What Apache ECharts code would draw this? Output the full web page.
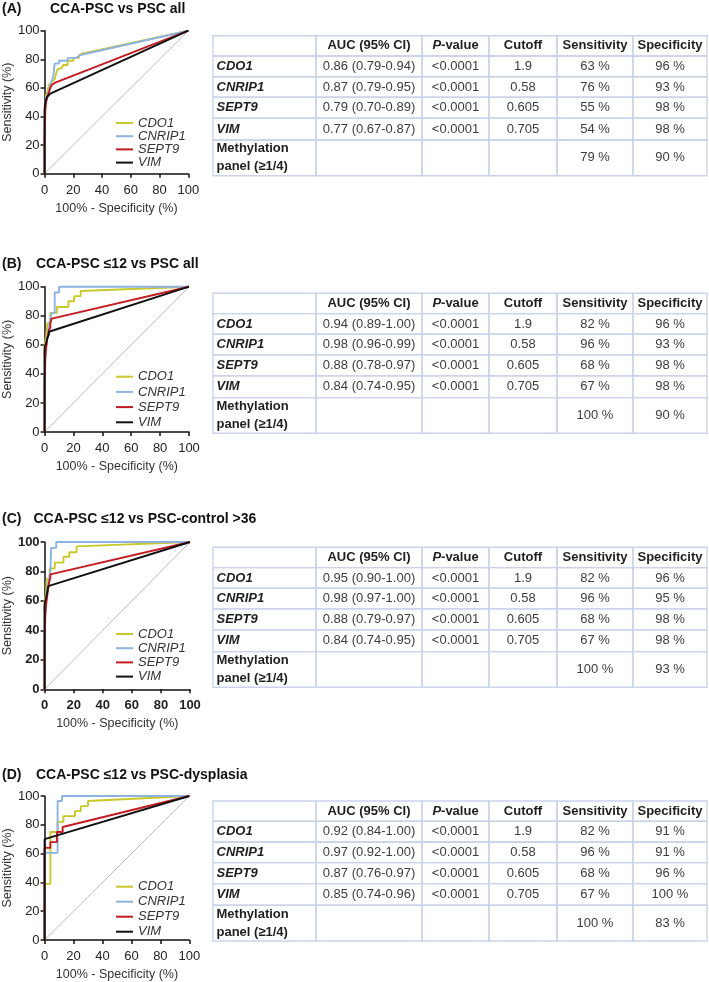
<!DOCTYPE html>
<html><head><meta charset="utf-8">
<script src="https://cdn.jsdelivr.net/npm/echarts@6/dist/echarts.min.js"></script>
<style>html,body{margin:0;padding:0;background:#fff}#c{width:709px;height:982px}</style>
</head><body><div id="c"></div>
<script>
const FONT = '"Liberation Sans", Arial, Helvetica, sans-serif';

// ---------- data ----------
const markers = ['CDO1', 'CNRIP1', 'SEPT9', 'VIM'];
const panelLetters = ['(A)', '(B)', '(C)', '(D)'];
const panelTitles = ['CCA-PSC vs PSC all', 'CCA-PSC \u226412 vs PSC all', 'CCA-PSC \u226412 vs PSC-control >36', 'CCA-PSC \u226412 vs PSC-dysplasia'];
const axisTicks = [0, 20, 40, 60, 80, 100];
const xAxisName = '100% - Specificity (%)';
const yAxisName = 'Sensitivity (%)';

const tableHeaders = ['', 'AUC (95% CI)', 'P-value', 'Cutoff', 'Sensitivity', 'Specificity'];
const panelRowLabel = ['Methylation', 'panel (\u22651/4)'];
const cutoffs = ['1.9', '0.58', '0.605', '0.705'];
const pValues = ['<0.0001', '<0.0001', '<0.0001', '<0.0001'];

const aucA = ['0.86 (0.79-0.94)', '0.87 (0.79-0.95)', '0.79 (0.70-0.89)', '0.77 (0.67-0.87)'];
const sensA = [63, 76, 55, 54, 79];
const specA = [96, 93, 98, 98, 90];
const aucB = ['0.94 (0.89-1.00)', '0.98 (0.96-0.99)', '0.88 (0.78-0.97)', '0.84 (0.74-0.95)'];
const sensB = [82, 96, 68, 67, 100];
const specB = [96, 93, 98, 98, 90];
const aucC = ['0.95 (0.90-1.00)', '0.98 (0.97-1.00)', '0.88 (0.79-0.97)', '0.84 (0.74-0.95)'];
const sensC = [82, 96, 68, 67, 100];
const specC = [96, 95, 98, 98, 93];
const aucD = ['0.92 (0.84-1.00)', '0.97 (0.92-1.00)', '0.87 (0.76-0.97)', '0.85 (0.74-0.96)'];
const sensD = [82, 96, 68, 67, 100];
const specD = [91, 91, 96, 100, 83];

// ROC curves: [100% - specificity, sensitivity]
const rocA_CDO1 = [[0,0],[0,38],[0.5,45],[1,52],[1,55],[2,57],[3,58],[3,62],[4,62],[5,64],[6,65],[7,66],[8,70],[9,70],[9,73],[10,74],[12,74],[13,76],[16,76],[16,79],[20,79],[20,81],[24,81],[24,83],[26,84],[100,100]];
const rocA_CNRIP1 = [[0,0],[0,42],[0.5,50],[1,53],[2,55],[3,58],[4,62],[5,63],[5,65],[6,65],[6,68],[7,68],[7,77],[10,77],[10,79],[16,79],[16,81],[22,81],[22,82],[25,83],[100,100]];
const rocA_SEPT9 = [[0,0],[0,23],[0.5,45],[1,50],[2,54],[3,57],[4,60],[5,62],[6,63],[7,63.5],[100,100]];
const rocA_VIM = [[0,0],[0,45],[0.5,50],[1,52],[2,54],[3,55],[4,56],[5,56.5],[100,100]];

const rocB_CDO1 = [[0,0],[0,60],[1,65],[2,75],[4,75],[4,82],[8.5,82],[8.5,86],[16.5,86],[16.5,90],[20.5,90],[20.5,93.5],[25,93.5],[25,97],[100,100]];
const rocB_CNRIP1 = [[0,0],[0,55],[1,60],[2,65],[3,72],[4,78],[5,82],[7,82],[7,96],[10,96],[10,100],[100,100]];
const rocB_SEPT9 = [[0,0],[0,32],[0.5,50],[1,57],[2,65],[3,70],[4,72],[4,75],[5,76],[5,78],[6,78],[100,100]];
const rocB_VIM = [[0,0],[0,58],[1,61],[2,65],[3,67],[3,69],[4,70],[100,100]];

const rocC_CDO1 = [[0,0],[0,60],[1,65],[1.5,75],[3.5,75],[3.5,82],[7,82],[7,86],[13,86],[13,90],[17,90],[17,93],[22,93],[22,97],[100,100]];
const rocC_CNRIP1 = [[0,0],[0,55],[1,62],[2,68],[3,75],[4,80],[4.5,80],[4.5,96],[8,96],[8,100],[100,100]];
const rocC_SEPT9 = [[0,0],[0,32],[0.5,50],[1,57],[2,65],[3,72],[4,76],[4,78],[5,79],[100,100]];
const rocC_VIM = [[0,0],[0,58],[1,62],[2,67],[2.5,70],[3,70.5],[100,100]];

const rocD_CDO1 = [[0,0],[0,39],[4,39],[4,75],[9,75],[9,82],[13,82],[13,86],[21,86],[21,89.5],[25,89.5],[25,93],[30,93],[30,96.5],[100,100]];
const rocD_CNRIP1 = [[0,0],[0,60.5],[9,60.5],[9,96.5],[12,96.5],[12,100],[100,100]];
const rocD_SEPT9 = [[0,0],[0,64],[4,64],[4,68],[8.5,68],[8.5,75],[12.5,75],[12.5,78.5],[100,100]];
const rocD_VIM = [[0,0],[0,67],[0,70],[100,100]];

const rocPanels = [
  [rocA_CDO1, rocA_CNRIP1, rocA_SEPT9, rocA_VIM],
  [rocB_CDO1, rocB_CNRIP1, rocB_SEPT9, rocB_VIM],
  [rocC_CDO1, rocC_CNRIP1, rocC_SEPT9, rocC_VIM],
  [rocD_CDO1, rocD_CNRIP1, rocD_SEPT9, rocD_VIM]
];
const tablePanels = [
  {auc: aucA, sens: sensA, spec: specA},
  {auc: aucB, sens: sensB, spec: specB},
  {auc: aucC, sens: sensC, spec: specC},
  {auc: aucD, sens: sensD, spec: specD}
];

// ---------- style / layout ----------
const markerColors = ['#c8c82a', '#8db3e2', '#c41a22', '#111111'];
const BORDER = '#c9d3ea';
const layout = [
  {titleY: 9,   titleLeft: 50,   grid: {left: 43.3, top: 30.7, width: 145,   height: 143},   legendTop: 116.5, legendGap: 0.2, tableTop: 35.7,  boldTicks: false},
  {titleY: 264, titleLeft: 36,   grid: {left: 43.3, top: 286.7, width: 145.7, height: 145.3}, legendTop: 370.2, legendGap: 2.2, tableTop: 293.3, boldTicks: false},
  {titleY: 518.7, titleLeft: 33.5, grid: {left: 43.3, top: 542,  width: 146.7, height: 147.3}, legendTop: 627.5, legendGap: 1.2, tableTop: 547.3, boldTicks: true},
  {titleY: 775, titleLeft: 36,   grid: {left: 43.3, top: 796,  width: 146,   height: 146},   legendTop: 880.2, legendGap: 2.0, tableTop: 801,   boldTicks: false}
];
const colW = [103, 106, 67, 68, 76, 74];
const rowH = [20.3, 20.7, 20.6, 21, 21.7, 35.7];
function edges(arr) { const s = arr.reduce((a, b) => a + b, 0); const e = [0]; let acc = 0; arr.forEach(v => { acc += v; e.push(acc / s); }); return e; }
const colEdge = edges(colW), rowEdge = edges(rowH);

function cellContent(t, c, r) {
  const body = '#3c3c3c', dark = '#1e1e1e';
  if (r === 0) {
    if (c === 2) return {text: '{i|P}{n|-value}', rich: {
      i: {fontStyle: 'italic', fontWeight: 'bold', fontSize: 13, fontFamily: FONT, fill: dark},
      n: {fontWeight: 'bold', fontSize: 13, fontFamily: FONT, fill: dark}}, color: dark, bold: true};
    return {text: tableHeaders[c], bold: true, color: dark};
  }
  if (r <= 4) {
    const i = r - 1;
    if (c === 0) return {text: markers[i], bold: true, italic: true, color: dark};
    if (c === 1) return {text: t.auc[i], color: body};
    if (c === 2) return {text: pValues[i], color: body};
    if (c === 3) return {text: cutoffs[i], color: body};
    if (c === 4) return {text: t.sens[i] + ' %', color: body};
    return {text: t.spec[i] + ' %', color: body};
  }
  if (c === 0) return {text: panelRowLabel.join('\n'), bold: true, color: dark};
  if (c === 4) return {text: t.sens[4] + ' %', color: body};
  if (c === 5) return {text: t.spec[4] + ' %', color: body};
  return {text: ''};
}

function makeTableRender(t) {
  return function (params, api) {
    const cs = params.coordSys;
    const c = api.value(0), r = api.value(1);
    const x0 = cs.x + cs.width * colEdge[c], x1 = cs.x + cs.width * colEdge[c + 1];
    const y0 = cs.y + cs.height * rowEdge[r], y1 = cs.y + cs.height * rowEdge[r + 1];
    const cell = cellContent(t, c, r);
    const children = [{type: 'rect', shape: {x: x0, y: y0, width: x1 - x0, height: y1 - y0},
      style: {fill: 'none', stroke: BORDER, lineWidth: 1.4}}];
    if (cell.text) {
      const st = {text: cell.text, x: c === 0 ? x0 + 3.5 : (x0 + x1) / 2, y: (y0 + y1) / 2,
        align: c === 0 ? 'left' : 'center', verticalAlign: 'middle',
        fontFamily: FONT, fontSize: 13, fontWeight: cell.bold ? 'bold' : 'normal',
        fontStyle: cell.italic ? 'italic' : 'normal', fill: cell.color, lineHeight: 18};
      if (cell.rich) st.rich = cell.rich;
      children.push({type: 'text', style: st});
    }
    return {type: 'group', children};
  };
}

// ---------- option ----------
const titles = [], grids = [], xAxes = [], yAxes = [], legends = [], series = [];
layout.forEach((L, p) => {
  titles.push({text: panelLetters[p], left: 2, top: L.titleY - 8, textStyle: {fontFamily: FONT, fontSize: 14, fontWeight: 'bold', color: '#111', lineHeight: 16}, padding: 0});
  titles.push({text: panelTitles[p], left: L.titleLeft, top: L.titleY - 8, textStyle: {fontFamily: FONT, fontSize: 14, fontWeight: 'bold', color: '#111', lineHeight: 16}, padding: 0});
  grids.push(Object.assign({containLabel: false}, L.grid));
  const axCommon = {
    type: 'value', min: 0, max: 100, interval: 20, gridIndex: p,
    nameLocation: 'middle',
    nameTextStyle: {fontFamily: FONT, fontSize: 12.5, color: '#333'},
    axisLine: {show: true, lineStyle: {color: '#111', width: 1.5}},
    axisTick: {show: true, length: 4, lineStyle: {color: '#111', width: 1.5}},
    splitLine: {show: false},
    axisLabel: {fontFamily: FONT, fontSize: 13, color: '#222', fontWeight: L.boldTicks ? 'bold' : 'normal',
      customValues: axisTicks}
  };
  xAxes.push(Object.assign({}, axCommon, {name: xAxisName, nameGap: 28, axisLabel: Object.assign({}, axCommon.axisLabel, {margin: 10})}));
  yAxes.push(Object.assign({}, axCommon, {name: yAxisName, nameGap: 29, nameRotate: 90, axisLabel: Object.assign({}, axCommon.axisLabel, {margin: 5})}));
  legends.push({left: 116, top: L.legendTop, orient: 'vertical', padding: 0, itemWidth: 17, itemHeight: 2,
    itemGap: L.legendGap, icon: 'rect', data: markers, selectedMode: false,
    textStyle: {fontFamily: FONT, fontSize: 13, fontStyle: 'italic', color: '#333', lineHeight: 13}});
  series.push({type: 'line', name: 'reference', xAxisIndex: p, yAxisIndex: p, data: [[0, 0], [100, 100]],
    symbol: 'none', lineStyle: {color: '#888', width: 0.6}, silent: true, z: 1});
  rocPanels[p].forEach((d, k) => {
    series.push({type: 'line', name: markers[k], xAxisIndex: p, yAxisIndex: p, data: d,
      symbol: 'none', showSymbol: false, clip: false, color: markerColors[k],
      lineStyle: {color: markerColors[k], width: 1.9}, z: 2 + k});
  });
});
layout.forEach((L, p) => {
  const gi = 4 + p;
  grids.push({left: 213, top: L.tableTop, width: 494, height: 140});
  xAxes.push({type: 'value', gridIndex: gi, min: 0, max: 6, show: false});
  yAxes.push({type: 'value', gridIndex: gi, min: 0, max: 6, show: false, inverse: true});
  const cells = [];
  for (let r = 0; r < rowH.length; r++) for (let c = 0; c < colW.length; c++) cells.push([c, r]);
  series.push({type: 'custom', xAxisIndex: gi, yAxisIndex: gi, data: cells, renderItem: makeTableRender(tablePanels[p]), silent: true, clip: false});
});

const chart = echarts.init(document.getElementById('c'), null, {renderer: 'canvas'});
chart.setOption({backgroundColor: '#fff', animation: false, title: titles, grid: grids, xAxis: xAxes, yAxis: yAxes, legend: legends, series: series});
</script></body></html>
